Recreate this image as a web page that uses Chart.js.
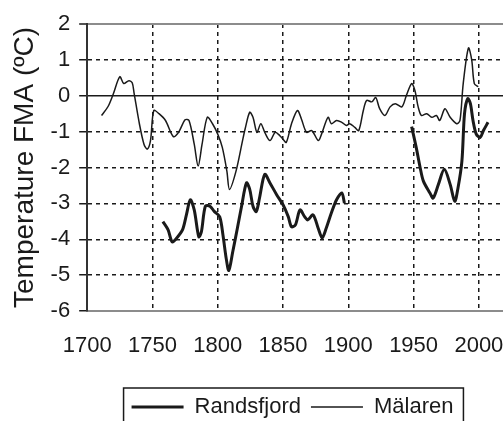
<!DOCTYPE html>
<html>
<head>
<meta charset="utf-8">
<script src="https://cdn.jsdelivr.net/npm/chart.js@4/dist/chart.umd.min.js"></script>
<style>
  html, body { margin: 0; padding: 0; background: #fff; overflow: hidden; }
  #wrap { width: 505px; height: 421px; }
</style>
</head>
<body>
<div id="wrap"><canvas id="temp-chart"></canvas></div>
<script>
// x axis labels
let yearTicks = [1700, 1750, 1800, 1850, 1900, 1950, 2000];

// Mälaren (thin line)
let malarenYears = [
  1711, 1716, 1720, 1725, 1728, 1732, 1734.5, 1736, 1740, 1743.5, 1746, 1748.5,
  1751, 1755, 1760, 1766, 1770, 1775, 1778, 1782, 1785, 1788, 1792, 1796, 1800,
  1803.5, 1807, 1809, 1814, 1819, 1821, 1824.5, 1827, 1830, 1833, 1836, 1840,
  1844, 1847.5, 1850, 1852.5, 1856.5, 1861, 1864, 1868, 1872, 1877, 1879.5,
  1884.5, 1887, 1891, 1895, 1898.5, 1901, 1905, 1908, 1911.5, 1914, 1918, 1921,
  1924, 1928, 1932, 1936, 1941, 1944.5, 1948.5, 1951, 1953.5, 1956, 1960, 1964,
  1967.5, 1970, 1974, 1978, 1983, 1985.5, 1988, 1992, 1994.5, 1996.5, 1999.5,
];
let malarenTemps = [
  -0.55, -0.3, 0.05, 0.53, 0.34, 0.42, 0.36, 0.06, -0.78, -1.35, -1.49, -1.25,
  -0.41, -0.5, -0.69, -1.14, -1.02, -0.67, -0.69, -1.35, -1.96, -1.35, -0.6, -0.78, -1.07,
  -1.44, -2.1, -2.61, -2.1, -1.25, -0.92, -0.46, -0.6, -1.02, -0.78, -1.02, -1.25,
  -1.02, -1.11, -1.21, -1.3, -0.78, -0.41, -0.64, -1.02, -0.97, -1.25, -1.07,
  -0.6, -0.78, -0.69, -0.74, -0.83, -0.78, -0.88, -0.97, -0.41, -0.13, -0.17, -0.05,
  -0.36, -0.55, -0.31, -0.22, -0.31, 0.01, 0.34, 0.15, -0.31, -0.55, -0.5, -0.6,
  -0.55, -0.69, -0.36, -0.6, -0.78, -0.69, 0.34, 1.33, 1.0, 0.34, 0.25,
];

// Randsfjord (thick line), null = gap in the record
let randsfjordYears = [
  1758, 1762, 1765, 1768, 1773, 1776, 1779, 1782, 1785.5, 1787.5, 1790.5, 1794,
  1797.5, 1801.5, 1804, 1806.5, 1808.5, 1811.5, 1815, 1818, 1822, 1824.5, 1827,
  1829.5, 1832, 1836, 1840, 1845, 1850, 1854, 1856.5, 1859.5, 1863, 1866.5, 1869,
  1873, 1877, 1880, 1883, 1887, 1891, 1895, 1897,
  1920,
  1948.5, 1952, 1955, 1957.5, 1962.5, 1965, 1969, 1973.5, 1978, 1981.5, 1984,
  1987, 1989, 1991.5, 1993.5, 1995.5, 1998, 2001, 2003.5, 2007,
];
let randsfjordTemps = [
  -3.51, -3.74, -4.07, -3.99, -3.74, -3.32, -2.9, -3.18, -3.93, -3.79, -3.08, -3.08,
  -3.23, -3.37, -3.88, -4.54, -4.87, -4.35, -3.7, -3.13, -2.43, -2.61, -3.08,
  -3.23, -2.85, -2.19, -2.43, -2.75, -3.04, -3.37, -3.65, -3.6, -3.18, -3.37, -3.46,
  -3.32, -3.7, -3.96, -3.7, -3.27, -2.9, -2.71, -2.99,
  null,
  -0.86, -1.44, -2.0, -2.38, -2.71, -2.85, -2.47, -2.05, -2.47, -2.94, -2.57,
  -1.82, -0.5, -0.08, -0.22, -0.69, -1.07, -1.16, -0.97, -0.74,
];

function toPoints(xs, ys) {
  return xs.map((x, i) => ({ x: x, y: ys[i] }));
}

let inkColor = "#1a1a1a";
let axisGray = "#8c8c8c";
let fontFamily = "'Liberation Sans', Arial, sans-serif";

// legend sits right of centre and a bit low in the original, and has
// a frame that the picture cuts off at the bottom
const legendFrame = {
  id: "legendFrame",
  afterLayout(chart) {
    chart.legend.left += 36;
    chart.legend.right += 36;
    chart.legend.top += 7;
    chart.legend.bottom += 7;
  },
  afterDraw(chart) {
    let boxes = chart.legend.legendHitBoxes;
    if (!boxes || !boxes.length) return;
    let left = Math.min(...boxes.map((b) => b.left)) - 8;
    let right = Math.max(...boxes.map((b) => b.left + b.width)) + 10;
    let top = boxes[0].top - 8;
    let ctx = chart.ctx;
    ctx.save();
    ctx.strokeStyle = inkColor;
    ctx.lineWidth = 1.5;
    ctx.strokeRect(left, top, right - left, chart.height - top + 10);
    ctx.restore();
  },
};

let tempChart = new Chart("temp-chart", {
  type: "line",
  data: {
    datasets: [
      {
        label: "Randsfjord",
        data: toPoints(randsfjordYears, randsfjordTemps),
        borderColor: inkColor,
        backgroundColor: inkColor,
        borderWidth: 3,
        pointRadius: 0,
        tension: 0.3,
        spanGaps: false,
      },
      {
        label: "Mälaren",
        data: toPoints(malarenYears, malarenTemps),
        borderColor: inkColor,
        backgroundColor: inkColor,
        borderWidth: 1.5,
        pointRadius: 0,
        tension: 0.3,
      },
    ],
  },
  options: {
    responsive: true,
    maintainAspectRatio: false,
    animation: false,
    layout: {
      padding: { top: 24, left: 8, right: 0, bottom: 0 },
    },
    plugins: {
      legend: {
        position: "bottom",
        labels: {
          usePointStyle: true,
          pointStyle: "line",
          pointStyleWidth: 52,
          color: inkColor,
          padding: 10,
          font: { family: fontFamily, size: 22 },
        },
      },
      tooltip: { enabled: false },
    },
    scales: {
      x: {
        type: "linear",
        min: 1700,
        max: 2020,
        afterBuildTicks: (scale) => {
          scale.ticks = yearTicks.map((v) => ({ value: v }));
        },
        afterFit: (scale) => {
          scale.height = 68;
        },
        ticks: {
          autoSkip: false,
          maxRotation: 0,
          padding: 0,
          color: inkColor,
          font: { family: fontFamily, size: 22 },
          callback: (v) => String(v),
        },
        grid: {
          color: (c) =>
            c.tick && c.tick.value === 1700 ? "rgba(0,0,0,0)" : inkColor,
          lineWidth: 1.5,
          tickLength: 22,
          tickColor: "rgba(0,0,0,0)",
        },
        border: { color: axisGray, width: 2, dash: [4, 4] },
      },
      y: {
        min: -6,
        max: 2,
        ticks: {
          stepSize: 1,
          padding: 9,
          color: inkColor,
          font: { family: fontFamily, size: 22 },
        },
        grid: {
          color: (c) => {
            if (!c.tick) return inkColor;
            if (c.tick.value === 2) return axisGray;
            if (c.tick.value === -6) return "rgba(0,0,0,0)";
            return inkColor;
          },
          lineWidth: (c) => (c.tick && c.tick.value === 2 ? 2 : 1.5),
          tickLength: 8,
          tickColor: inkColor,
          tickWidth: 1.5,
        },
        border: {
          color: "#333",
          width: 2,
          dash: (c) =>
            c.tick && (c.tick.value === 0 || c.tick.value === 2) ? [] : [4, 4],
        },
        title: {
          display: true,
          text: "Temperature FMA (ºC)",
          color: inkColor,
          padding: 0,
          font: { family: fontFamily, size: 28 },
        },
      },
    },
  },
  plugins: [legendFrame],
});
</script>
</body>
</html>
